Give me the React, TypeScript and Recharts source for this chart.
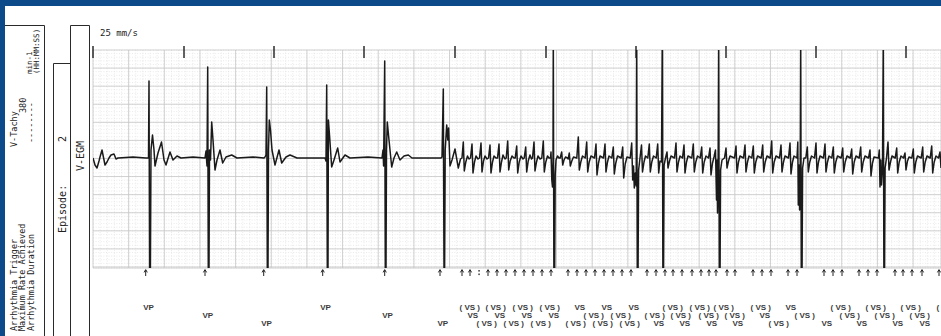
import React from 'react';
import { LineChart, Line, XAxis, YAxis, CartesianGrid, ReferenceLine } from 'recharts';

// V-EGM trace: [sample (≈11 ms each, 25 mm/s paper), amplitude (0.1 mm units, baseline 0)]
const egmTrace: number[][] = [
  [0,0],[2,-7],[4,-10],[6,-3],[7,1],[9,8],[11,-2],[12,-7],[14,-4],[16,0],[18,3],[21,4],[23,-1],[25,0],[40,1],[53,0],
  // VP 1
  [55.5,0],[56,77],[56.6,-112],[57.4,-112],[58,8],[59.5,23],[61,8],[62,-8],[65,5],[68.5,16],[71,-2],[73,-7],[77,6],[80,-2],[84,2],[88,0],[100,1],[112,0],
  // VP 2
  [113,7],[114,-8],[114.7,91],[115.3,-112],[116,-112],[116.5,8],[117.5,-2],[118.7,36],[120,18],[122,-12],[124,-2],[127,8],[129.7,-5],[133,1],[138.7,3],[144,0],[160,1],[171,0],
  // VP 3
  [172,1],[173,3],[173.7,71],[174.3,-112],[175,-112],[175.5,8],[176.3,38],[177.5,28],[179,8],[182,-7],[186,8],[188.7,-5],[193,1],[197,3],[204,0],[220,0],[231,0],
  // VP 4
  [232,0],[233,-3],[233.7,73],[234.3,-112],[235,-112],[235.4,38],[236.5,23],[238.7,-9],[241,-2],[244.7,10],[247,-4],[252,3],[257,0],[275,1],[289,0],
  // VP 5
  [290,8],[290.6,-8],[291.7,97],[292.3,-112],[293,-112],[293.5,8],[294.3,36],[295.5,23],[298.7,-9],[301,0],[303.7,6],[307,-2],[311,2],[315.3,3],[319,0],[335,0],[348,0],
  // VP 6
  [349,1],[350.3,69],[351,-112],[351.6,-112],[352.2,8],[353.7,33],[354.8,18],[355.6,30],[357,-8],[359,-2],[362,9],[365.3,-10],[367.5,-1],
  // VS train
  [369,0],[370.3,16],[371.3,-13],[372.8,-4],[374.5,2],[376,-1],
  [377.5,0],[379,14],[380,-15],[381.5,-4],[383,2],[385,-1],
  [386.5,0],[388,15],[389,-14],[390.5,-3],[392,2],[394,-1],
  [395.5,0],[397,13],[398,-15],[399.5,-4],[401,2],[403,0],
  [404.5,0],[406,14],[407,-14],[408.5,-4],[410,3],[412,-1],
  [413.2,0],[414.7,17],[415.7,-12],[417.2,-3],[419,2],[421,0],
  [422.2,0],[423.7,12],[424.7,-15],[426.2,-4],[428,2],[430,-1],
  [431.2,0],[432.7,11],[433.7,-14],[435.2,-3],[437,3],[438.5,-1],
  [439.5,0],[441,16],[442,-13],[443.5,-4],[445,2],[447,-1],
  [448.8,0],[450.3,17],[451.3,-14],[452.8,-4],[454.5,2],[456,0],
  [457.5,0],[458,6],[458.8,-22],[459.5,-29],[460,-2],[460.3,125],[460.9,-125],[461.6,-125],[462.2,-17],[463,-2],[464.5,2],[466,0],
  [467.2,0],[468.7,6],[469.7,-7],[471,-2],[472.5,1],[474.5,0],
  [475.2,-1],[476.3,5],[477.3,-8],[478.8,-3],[480.5,1],[483.8,0],
  [485.3,21],[486.3,-12],[487.8,-4],[489.5,2],[492.2,0],
  [493.7,16],[494.7,-14],[496.2,-4],[498,2],[501.5,0],
  [503,14],[504,-17],[505.5,-5],[507,2],[510.5,0],
  [512,14],[513,-14],[514.5,-4],[516,2],[518.8,0],
  [520.3,11],[521.3,-16],[522.8,-5],[524.5,2],[528.2,0],
  [529.7,11],[530.7,-20],[532.2,-6],[534,1],[537.2,0],
  [538.7,15],[539.7,-22],[540.5,-8],[541.3,-30],[542.3,-15],[543.2,-28],[543.7,125],[544.3,-125],[545,-125],[545.6,-12],[547,0],
  [548.5,13],[549.5,-14],[551,-4],[552.5,2],[554.8,0],
  [556.3,14],[557.3,-14],[558.8,-4],[560.5,2],[563.2,0],
  [564.7,14],[565.7,-15],[567,-3],[568.5,-4],[569.3,125],[569.9,-125],[570.5,-125],[571.1,-7],[572.5,0],
  [574,6],[575,-10],[576.5,-3],[578,2],[581.5,0],
  [583,15],[584,-14],[585.5,-4],[587,2],[589.5,0],
  [591,13],[592,-15],[593.5,-4],[595,2],[598.8,0],
  [600.3,14],[601.3,-14],[602.8,-4],[604.5,2],[607.2,0],
  [608.7,11],[609.7,-15],[611.2,-4],[613,2],[615.5,0],
  [617,10],[618,-17],[619.5,-5],[621,1],[622.5,8],[623.5,-42],[624,-2],[624.5,-55],[625.1,-17],[625.7,125],[626.3,-125],[627,-125],[627.6,-12],[629,-2],[631.5,0],
  [633,10],[634,-10],[635.5,-3],[637,2],[641.5,0],
  [643,12],[644,-15],[645.5,-4],[647,2],[650.5,0],
  [652,13],[653,-14],[654.5,-4],[656,2],[658.8,0],
  [660.3,12],[661.3,-15],[662.8,-4],[664.5,2],[668.2,0],
  [669.7,13],[670.7,-14],[672.2,-4],[674,2],[677.2,0],
  [678.7,17],[679.7,-15],[681.2,-4],[683,2],[686.5,0],
  [688,13],[689,-14],[690.5,-4],[692,2],[695.5,0],
  [697,15],[698,-16],[699.5,-4],[701,2],[704,0],[704.8,16],[705.3,-47],[706,-7],[706.6,-52],[707.2,-20],[707.7,125],[708.3,-125],[709,-125],[709.6,-10],[711,0],[712.8,0],
  [714.3,11],[715.3,-14],[716.8,-4],[718.5,2],[721.5,0],
  [723,15],[724,-15],[725.5,-4],[727,2],[730.5,0],
  [732,14],[733,-14],[734.5,-4],[736,2],[738.8,0],
  [740.3,11],[741.3,-15],[742.8,-4],[744.5,2],[748.2,0],
  [749.7,10],[750.7,-14],[752.2,-4],[754,2],[757.2,0],
  [758.7,9],[759.7,-16],[761.2,-4],[763,2],[766.2,0],
  [767.7,11],[768.7,-14],[770.2,-4],[772,2],[775.5,0],
  [777,8],[778,-18],[779.5,-5],[781,1],[785.5,0],[786.3,8],[787,-29],[787.8,-2],[788.5,-27],[789.5,-10],[790.3,125],[790.9,-125],[791.5,-125],[792.1,-10],[793.5,0],
  [795,16],[796,-12],[797.5,-4],[799,2],[802.2,0],
  [803.7,10],[804.7,-15],[806.2,-4],[808,2],[810.5,0],
  [812,5],[813,-12],[814.5,-3],[816,1],[818.8,0],
  [820.3,9],[821.3,-15],[822.8,-4],[824.5,2],[828.2,0],
  [829.7,11],[830.7,-14],[832.2,-4],[834,2],[837.2,0],
  [838.7,12],[839.7,-15],[841.2,-4],[843,2],[845.5,0],
  [847,6],[848,-10],
];
const traceData = egmTrace.map(([t, a]) => ({ t, a }));

// 1-second time marks (samples)
const secondMarks = [0, 91, 181, 271, 362, 453, 543, 633, 723, 813];

// Marker channel: sample of each event marker, its annotation and glyph
const markerSamples = [
  52.7, 112, 170.7, 229.7, 291.7, 347,
  369, 377, 386, 395, 404, 413, 422, 431, 440, 449, 458,
  475, 484, 493, 502, 511, 520, 529, 538,
  554, 563, 572, 580, 589, 599, 608, 616, 623, 634, 642,
  660, 669, 678,
  695, 704,
  731, 740, 749,
  766, 775, 784,
  802, 810, 819, 829,
  846,
];
const markerLabels = [
  'VP', 'VP', 'VP', 'VP', 'VP', 'VP',
  '( VS )', 'VS', '( VS )', '( VS )', 'VS', '( VS )', '( VS )', 'VS', '( VS )', '( VS )', 'VS',
  '( VS )', 'VS', '( VS )', '( VS )', 'VS', '( VS )', '( VS )', 'VS',
  '( VS )', 'VS', '( VS )', '( VS )', 'VS', '( VS )', '( VS )', 'VS', '( VS )', '( VS )', 'VS',
  '( VS )', 'VS', '( VS )',
  'VS', '( VS )',
  'VS', '( VS )', '( VS )',
  'VS', '( VS )', '( VS )',
  'VS', '( VS )', '( VS )', 'VS',
  '(',
];
const markerGlyphs = markerSamples.map((_, i) => (i === 8 ? ':' : '↑'));

// Paper grid (5 mm major, 1 mm minor)
const gridMajorX = Array.from({ length: 47 }, (_, i) => +(i * 18.08).toFixed(2));
const gridMinorX = Array.from({ length: 235 }, (_, i) => +(i * 3.616).toFixed(3));
const gridMajorY = Array.from({ length: 13 }, (_, i) => +(108 - i * 18.08).toFixed(2));
const gridMinorY = Array.from({ length: 61 }, (_, i) => +(108 - i * 3.616).toFixed(3));

const X_DOMAIN: [number, number] = [0, 848];
const Y_DOMAIN: [number, number] = [-110, 108];

const SecondMark = (p: any) => {
  const x = p.x1;
  const top = Math.min(p.y1, p.y2);
  return <line x1={x} x2={x} y1={top - 4} y2={top + 8} stroke="#1e1e1e" strokeWidth={1.4} />;
};

const MarkerShape = ({ x, bottom, i }: { x: number; bottom: number; i: number }) => {
  const row = i % 3;
  const glyph = markerGlyphs[i];
  const y = bottom;
  return (
    <g>
      {glyph === ':' ? (
        <g fill="#222">
          <rect x={x - 0.6} y={y + 2} width={1.3} height={1.6} />
          <rect x={x - 0.6} y={y + 5.5} width={1.3} height={1.6} />
        </g>
      ) : (
        <g stroke="#222" strokeWidth={1} fill="none">
          <line x1={x} x2={x} y1={y + 2} y2={y + 8} />
          <polyline points={`${x - 1.6},${y + 4.4} ${x},${y + 1.6} ${x + 1.6},${y + 4.4}`} />
        </g>
      )}
      <text
        x={x - 2.5}
        y={y + 42 + row * 8}
        fontFamily="'Liberation Sans', Arial, sans-serif"
        fontWeight="bold"
        fontSize={8}
        fill="#3a3a3a"
        textAnchor="start"
      >
        {markerLabels[i]}
      </text>
    </g>
  );
};

const rot = (x: number, y: number) => `translate(${x},${y}) rotate(-90)`;

const Panels = () => {
  const mono = "'DejaVu Sans Mono', 'Liberation Mono', monospace";
  return (
    <svg width={941} height={336} style={{ position: 'absolute', left: 0, top: 0 }}>
      <rect x={0} y={0} width={941} height={336} fill="#ffffff" />
      <rect x={0} y={0} width={941} height={6} fill="#0c4a89" />
      <rect x={0} y={0} width={5} height={336} fill="#0c4a89" />
      <g stroke="#2a2a2a" strokeWidth={1} fill="none">
        <path d="M5 25.5 H44.5 V336" />
        <path d="M53.5 336 V63.5 H70.5" />
        <path d="M70.5 336 V25.5 H89.5 V336" />
      </g>
      <g fontFamily={mono} fontSize={8.5} fill="#222">
        <text transform={rot(16.5, 331)}>Arrhythmia Trigger</text>
        <text transform={rot(25, 331)}>Maximum Rate Achieved</text>
        <text transform={rot(33.5, 331)}>Arrhythmia Duration</text>
        <text transform={rot(17, 147)}>V-Tachy</text>
        <text transform={rot(26, 113)}>380</text>
        <text transform={rot(33.5, 143)}>--------</text>
      </g>
      <g fontFamily={mono} fill="#222" fontSize={7.5}>
        <text transform={rot(31.5, 74)}>min-1</text>
        <text transform={rot(39, 74)}>(HH:MM:SS)</text>
      </g>
      <g fontFamily={mono} fontSize={10} fill="#222">
        <text transform={rot(65.5, 233)}>Episode:</text>
        <text transform={rot(66, 142)}>2</text>
        <text transform={rot(84, 171)}>V-EGM</text>
      </g>
      <text x={100} y={36} fontFamily={mono} fontSize={9} fill="#222">25 mm/s</text>
    </svg>
  );
};

export default function App() {
  return (
    <div style={{ position: 'absolute', left: 0, top: 0, width: 941, height: 336, background: '#fff' }}>
      <Panels />
      <div style={{ position: 'absolute', left: 0, top: 0 }}>
        <LineChart width={941} height={336} data={traceData} margin={{ top: 50, right: 0, bottom: 68, left: 93 }}>
          <XAxis xAxisId="main" dataKey="t" type="number" domain={X_DOMAIN} allowDataOverflow hide />
          <YAxis yAxisId="main" type="number" domain={Y_DOMAIN} allowDataOverflow hide />
          <XAxis xAxisId="gmin" type="number" domain={X_DOMAIN} ticks={gridMinorX} interval={0} allowDataOverflow hide />
          <YAxis yAxisId="gmin" type="number" domain={Y_DOMAIN} ticks={gridMinorY} interval={0} allowDataOverflow hide />
          <XAxis xAxisId="gmaj" type="number" domain={X_DOMAIN} ticks={gridMajorX} interval={0} allowDataOverflow hide />
          <YAxis yAxisId="gmaj" type="number" domain={Y_DOMAIN} ticks={gridMajorY} interval={0} allowDataOverflow hide />
          <CartesianGrid xAxisId="gmin" yAxisId="gmin" stroke="#dcdcdc" strokeWidth={0.6} strokeDasharray="1 1.6" />
          <CartesianGrid xAxisId="gmaj" yAxisId="gmaj" stroke="#c6c6c6" strokeWidth={0.8} />
          {secondMarks.map((t) => (
            <ReferenceLine
              key={'s' + t}
              xAxisId="main"
              yAxisId="main"
              x={t}
              ifOverflow="visible"
              stroke="none"
              shape={(p: any) => <SecondMark {...p} />}
            />
          ))}
          {markerSamples.map((t, i) => (
            <ReferenceLine
              key={'m' + i}
              xAxisId="main"
              yAxisId="main"
              x={t}
              ifOverflow="visible"
              stroke="none"
              shape={(p: any) => <MarkerShape x={p.x1} bottom={Math.max(p.y1, p.y2)} i={i} />}
            />
          ))}
          <Line
            xAxisId="main"
            yAxisId="main"
            dataKey="a"
            type="linear"
            stroke="#1a1a1a"
            strokeWidth={1.5}
            strokeLinejoin="round"
            dot={false}
            activeDot={false}
            isAnimationActive={false}
          />
        </LineChart>
      </div>
    </div>
  );
}
